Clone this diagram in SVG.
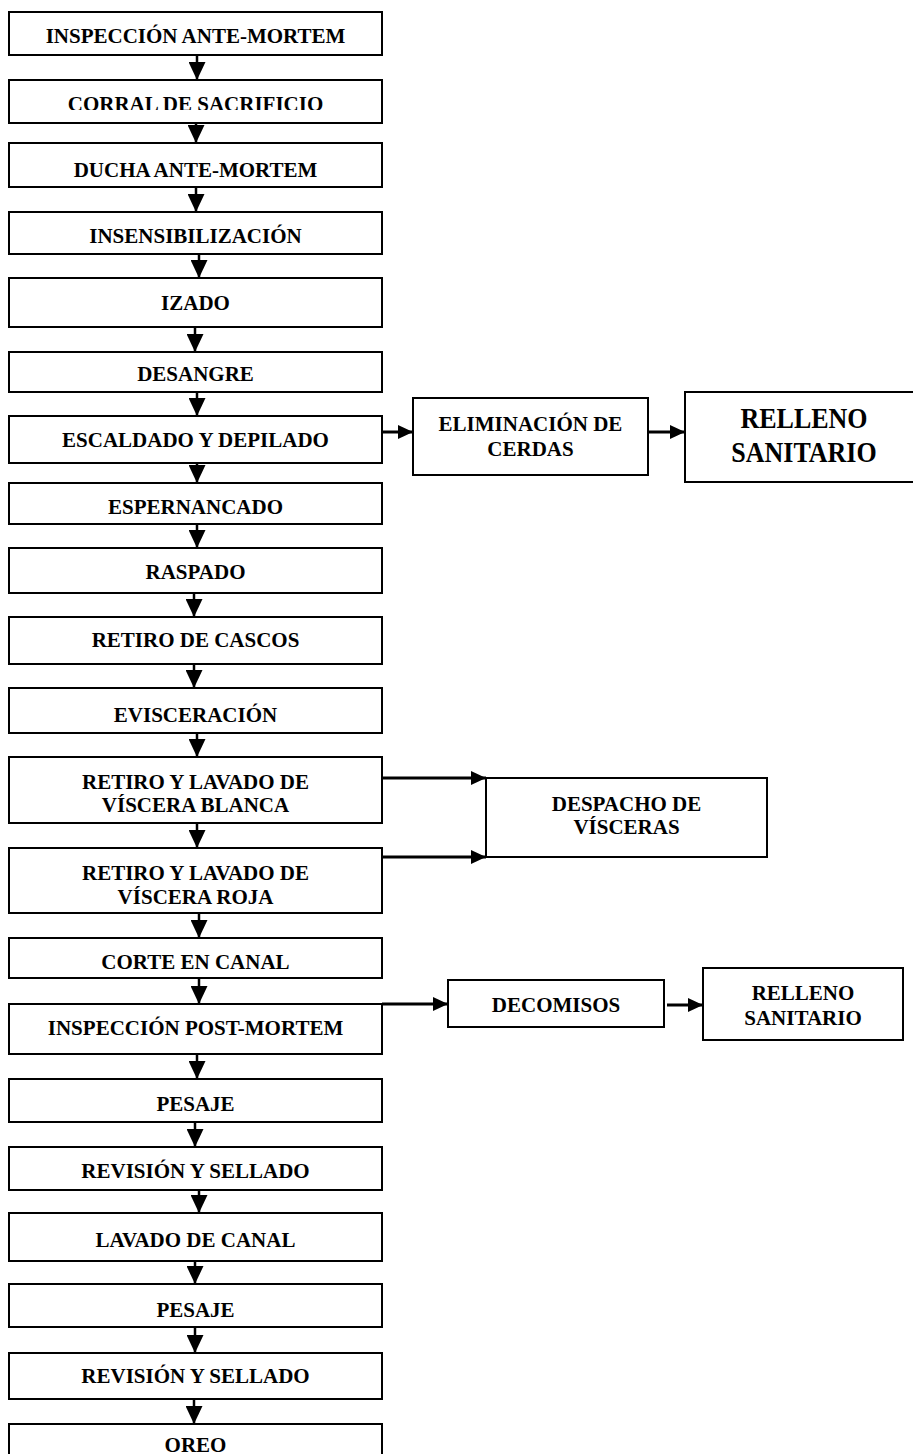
<svg xmlns="http://www.w3.org/2000/svg" width="913" height="1454" viewBox="0 0 913 1454">
  <style>
    .box { fill: #ffffff; stroke: #000000; stroke-width: 2; }
    .lbl { font-family: "Liberation Serif", "Times New Roman", serif; font-weight: bold; font-size: 21px; fill: #000000; text-anchor: middle; }
    .big { font-size: 26px; }
    .v { stroke: #000000; stroke-width: 2.5; fill: none; }
    .h { stroke: #000000; stroke-width: 3; fill: none; }
  </style>
  <defs>
    <marker id="headV" markerUnits="userSpaceOnUse" markerWidth="18" markerHeight="17" refX="18" refY="8.5" orient="auto">
      <path d="M0,0 L18,8.5 L0,17 Z" fill="#000000"/>
    </marker>
    <marker id="headH" markerUnits="userSpaceOnUse" markerWidth="15" markerHeight="14" refX="15" refY="7" orient="auto">
      <path d="M0,0 L15,7 L0,14 Z" fill="#000000"/>
    </marker>
    <clipPath id="clipCorral">
      <rect x="9" y="80" width="373" height="30"/>
    </clipPath>
  </defs>

  <rect width="913" height="1454" fill="#ffffff"/>

  <!-- connectors -->
  <g id="connectors">
    <line class="v" x1="197" y1="55" x2="197" y2="80" marker-end="url(#headV)"/>
    <line class="v" x1="196" y1="123" x2="196" y2="143" marker-end="url(#headV)"/>
    <line class="v" x1="196" y1="187" x2="196" y2="212" marker-end="url(#headV)"/>
    <line class="v" x1="199" y1="254" x2="199" y2="278" marker-end="url(#headV)"/>
    <line class="v" x1="195" y1="327" x2="195" y2="352" marker-end="url(#headV)"/>
    <line class="v" x1="197" y1="392" x2="197" y2="416" marker-end="url(#headV)"/>
    <line class="v" x1="197" y1="463" x2="197" y2="483" marker-end="url(#headV)"/>
    <line class="v" x1="197" y1="524" x2="197" y2="548" marker-end="url(#headV)"/>
    <line class="v" x1="194" y1="593" x2="194" y2="617" marker-end="url(#headV)"/>
    <line class="v" x1="194" y1="664" x2="194" y2="688" marker-end="url(#headV)"/>
    <line class="v" x1="197" y1="733" x2="197" y2="757" marker-end="url(#headV)"/>
    <line class="v" x1="197" y1="823" x2="197" y2="848" marker-end="url(#headV)"/>
    <line class="v" x1="199" y1="913" x2="199" y2="938" marker-end="url(#headV)"/>
    <line class="v" x1="199" y1="978" x2="199" y2="1004" marker-end="url(#headV)"/>
    <line class="v" x1="197" y1="1054" x2="197" y2="1079" marker-end="url(#headV)"/>
    <line class="v" x1="195" y1="1122" x2="195" y2="1147" marker-end="url(#headV)"/>
    <line class="v" x1="199" y1="1190" x2="199" y2="1213" marker-end="url(#headV)"/>
    <line class="v" x1="195" y1="1261" x2="195" y2="1284" marker-end="url(#headV)"/>
    <line class="v" x1="195" y1="1327" x2="195" y2="1353" marker-end="url(#headV)"/>
    <line class="v" x1="194" y1="1399" x2="194" y2="1424" marker-end="url(#headV)"/>

    <line class="h" x1="382" y1="432" x2="413" y2="432" marker-end="url(#headH)"/>
    <line class="h" x1="648" y1="432" x2="685" y2="432" marker-end="url(#headH)"/>
    <line class="h" x1="382" y1="778" x2="486" y2="778" marker-end="url(#headH)"/>
    <line class="h" x1="382" y1="857" x2="486" y2="857" marker-end="url(#headH)"/>
    <line class="h" x1="382" y1="1004" x2="448" y2="1004" marker-end="url(#headH)"/>
    <line class="h" x1="667" y1="1005" x2="703" y2="1005" marker-end="url(#headH)"/>
  </g>

  <!-- main column -->
  <g id="n01"><rect class="box" x="9" y="12" width="373" height="43"/><text class="lbl" x="195.5" y="43">INSPECCIÓN ANTE-MORTEM</text></g>
  <g id="n02"><rect class="box" x="9" y="80" width="373" height="43"/><text class="lbl" x="195.5" y="111" clip-path="url(#clipCorral)">CORRAL DE SACRIFICIO</text></g>
  <g id="n03"><rect class="box" x="9" y="143" width="373" height="44"/><text class="lbl" x="195.5" y="177">DUCHA ANTE-MORTEM</text></g>
  <g id="n04"><rect class="box" x="9" y="212" width="373" height="42"/><text class="lbl" x="195.5" y="243">INSENSIBILIZACIÓN</text></g>
  <g id="n05"><rect class="box" x="9" y="278" width="373" height="49"/><text class="lbl" x="195.5" y="310">IZADO</text></g>
  <g id="n06"><rect class="box" x="9" y="352" width="373" height="40"/><text class="lbl" x="195.5" y="381">DESANGRE</text></g>
  <g id="n07"><rect class="box" x="9" y="416" width="373" height="47"/><text class="lbl" x="195.5" y="447">ESCALDADO Y DEPILADO</text></g>
  <g id="n08"><rect class="box" x="9" y="483" width="373" height="41"/><text class="lbl" x="195.5" y="514">ESPERNANCADO</text></g>
  <g id="n09"><rect class="box" x="9" y="548" width="373" height="45"/><text class="lbl" x="195.5" y="579">RASPADO</text></g>
  <g id="n10"><rect class="box" x="9" y="617" width="373" height="47"/><text class="lbl" x="195.5" y="647">RETIRO DE CASCOS</text></g>
  <g id="n11"><rect class="box" x="9" y="688" width="373" height="45"/><text class="lbl" x="195.5" y="722">EVISCERACIÓN</text></g>
  <g id="n12"><rect class="box" x="9" y="757" width="373" height="66"/><text class="lbl" x="195.5" y="789">RETIRO Y LAVADO DE</text><text class="lbl" x="195.5" y="812">VÍSCERA BLANCA</text></g>
  <g id="n13"><rect class="box" x="9" y="848" width="373" height="65"/><text class="lbl" x="195.5" y="880">RETIRO Y LAVADO DE</text><text class="lbl" x="195.5" y="904">VÍSCERA ROJA</text></g>
  <g id="n14"><rect class="box" x="9" y="938" width="373" height="40"/><text class="lbl" x="195.5" y="969">CORTE EN CANAL</text></g>
  <g id="n15"><rect class="box" x="9" y="1004" width="373" height="50"/><text class="lbl" x="195.5" y="1035">INSPECCIÓN POST-MORTEM</text></g>
  <g id="n16"><rect class="box" x="9" y="1079" width="373" height="43"/><text class="lbl" x="195.5" y="1111">PESAJE</text></g>
  <g id="n17"><rect class="box" x="9" y="1147" width="373" height="43"/><text class="lbl" x="195.5" y="1178">REVISIÓN Y SELLADO</text></g>
  <g id="n18"><rect class="box" x="9" y="1213" width="373" height="48"/><text class="lbl" x="195.5" y="1247">LAVADO DE CANAL</text></g>
  <g id="n19"><rect class="box" x="9" y="1284" width="373" height="43"/><text class="lbl" x="195.5" y="1317">PESAJE</text></g>
  <g id="n20"><rect class="box" x="9" y="1353" width="373" height="46"/><text class="lbl" x="195.5" y="1383">REVISIÓN Y SELLADO</text></g>
  <g id="n21"><rect class="box" x="9" y="1424" width="373" height="50"/><text class="lbl" x="195.5" y="1452">OREO</text></g>

  <!-- side branches -->
  <g id="eliminacion"><rect class="box" x="413" y="398" width="235" height="77"/><text class="lbl" x="530.5" y="431">ELIMINACIÓN DE</text><text class="lbl" x="530.5" y="456">CERDAS</text></g>
  <g id="relleno1"><rect class="box" x="685" y="392" width="240" height="90"/>
    <text class="lbl big" transform="translate(804,428) scale(1,1.15)">RELLENO</text>
    <text class="lbl big" transform="translate(804,462) scale(1,1.15)">SANITARIO</text>
  </g>
  <g id="despacho"><rect class="box" x="486" y="778" width="281" height="79"/><text class="lbl" x="626.5" y="811">DESPACHO DE</text><text class="lbl" x="626.5" y="834">VÍSCERAS</text></g>
  <g id="decomisos"><rect class="box" x="448" y="980" width="216" height="47"/><text class="lbl" x="556" y="1012">DECOMISOS</text></g>
  <g id="relleno2"><rect class="box" x="703" y="968" width="200" height="72"/><text class="lbl" x="803" y="1000">RELLENO</text><text class="lbl" x="803" y="1025">SANITARIO</text></g>
</svg>
